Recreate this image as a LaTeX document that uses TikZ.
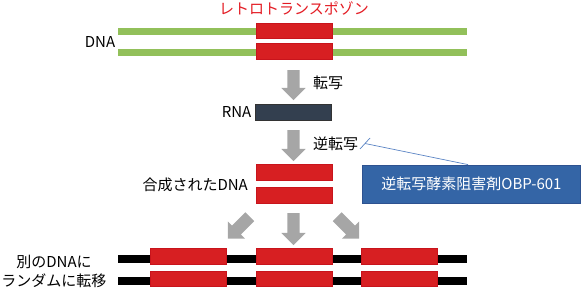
\documentclass[tikz,border=0pt]{standalone}
\usepackage{fontspec}
\setmainfont{Noto Sans CJK JP}
\usepackage{tikz}
\usetikzlibrary{positioning,shapes.arrows,calc}
\definecolor{dnagreen}{HTML}{92C05A}
\definecolor{tred}{HTML}{D71F22}
\definecolor{tredline}{HTML}{C8141C}
\definecolor{titlered}{HTML}{E31B23}
\definecolor{rnaslate}{HTML}{333F4F}
\definecolor{inhblue}{HTML}{3465A6}
\definecolor{inhline}{HTML}{2E5290}
\definecolor{arrgray}{HTML}{A6A6A6}
\definecolor{callout}{HTML}{5B84C4}

\begin{document}
\begin{tikzpicture}[x=1pt,y=-1pt,font=\fontsize{15}{19}\selectfont,
  gline/.style={fill=dnagreen,inner sep=0,minimum width=349pt,minimum height=7pt},
  kline/.style={fill=black,inner sep=0,minimum width=349pt,minimum height=8pt},
  tbox/.style={fill=tred,draw=tredline,line width=0.6pt,inner sep=0,minimum width=76pt,minimum height=15.5pt},
  blk/.style={single arrow,fill=arrgray,inner xsep=0pt,inner ysep=6pt,minimum width=24pt,single arrow head extend=6pt},
  lbl/.style={inner sep=0pt,align=center}]
\useasboundingbox (0,0) rectangle (581,287);
% DNA with the retrotransposon
\node[lbl,text=titlered](title) at (294,8.5){レトロトランスポゾン};
\node[gline](g1) at (292.5,31.5){};
\node[gline](g2) at (292.5,52){};
\node[tbox](d1) at (294,31){};
\node[tbox](d2) at (294,51.5){};
\node[lbl](dnalbl) at (100,42){DNA};
\node[blk,rotate=-90,minimum height=30pt](a1) at (293.5,82){};
\node[lbl,anchor=west](tr) at (313,82.5){転写};
% RNA
\node[tbox,fill=rnaslate,draw=black!80](rna) at (293.5,112.5){};
\node[lbl](rnalbl) at (236.5,112){RNA};
\node[blk,rotate=-90,minimum height=31pt](a2) at (293.5,142.5){};
\node[lbl,anchor=west](rt) at (313,143.5){逆転写};
% synthesised DNA
\node[tbox](s1) at (294,172.5){};
\node[tbox](s2) at (294,195.5){};
\node[lbl,anchor=east](synlbl) at (248,185){合成されたDNA};
% inhibitor callout
\node[fill=inhblue,draw=inhline,line width=0.8pt,minimum width=218pt,minimum height=38pt,text=white,inner sep=0](inh) at (471.5,184){逆転写酵素阻害剤OBP-601};
\coordinate(ctip) at (365,143.5);
\draw[callout,line width=0.7pt](inh.north-|468,0)--(ctip);
\draw[callout,line width=0.7pt](ctip)++(-5,5.5)--++(10,-11);
% random insertion
\node[blk,rotate=-135,minimum height=31pt](al) at (241,225.5){};
\node[blk,rotate=-90,minimum height=32pt](am) at (293.5,226){};
\node[blk,rotate=-45,minimum height=31pt](ar) at (346,225.5){};
\node[kline](k1) at (292.5,258.5){};
\node[kline](k2) at (292.5,280.5){};
\node[tbox](i1) at (188,256.5){};
\node[tbox](i2) at (188,279){};
\node[tbox](m1) at (294,256.5){};
\node[tbox](m2) at (294,279){};
\node[tbox](r1) at (399,256.5){};
\node[tbox](r2) at (399,279){};
\node[lbl](inslbl) at (54,271){別のDNAに\\ランダムに転移};
\end{tikzpicture}
\end{document}
